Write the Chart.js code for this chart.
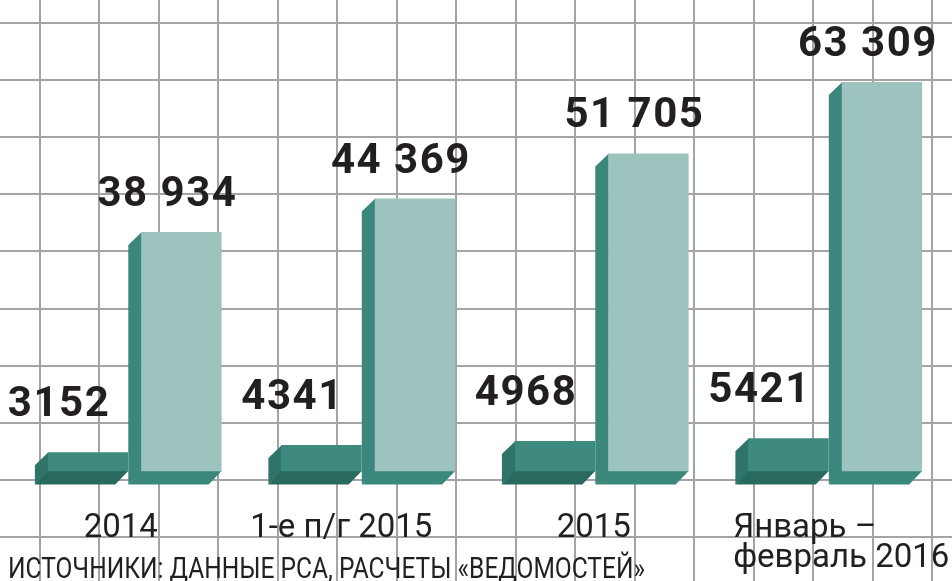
<!DOCTYPE html>
<html>
<head>
<meta charset="utf-8">
<script src="https://cdn.jsdelivr.net/npm/chart.js@4.4.1/dist/chart.umd.min.js"></script>
<style>
  html, body { margin: 0; padding: 0; background: #ffffff; }
  #wrap { width: 952px; height: 581px; }
</style>
</head>
<body>
<div id="wrap"><canvas id="c" width="952" height="581"></canvas></div>
<script>
// ---- data ----
const categories = [["2014"], ["1-е п/г 2015"], ["2015"], ["Январь –", "февраль 2016"]];
const smallValues = [3152, 4341, 4968, 5421];
const largeValues = [38934, 44369, 51705, 63309];
const sourceText = "ИСТОЧНИКИ: ДАННЫЕ РСА, РАСЧЕТЫ «ВЕДОМОСТЕЙ»";

// ---- styles ----
const TEXT = '#231f20';
const GRID = '#a4a4a4';
const DEPTH_X = -13, DEPTH_Y = 13;
const labelShift = [-14, -27, -8, 6];
const styles = [
  { face: '#3e8a7e', side: '#2e7468', bottom: '#296a5f', labelDx: -29, labelDy: -36 },
  { face: '#9dc3bf', side: '#3b877c', bottom: '#3a887c', labelDx: -14, labelDy: -26 }
];

function fmt(n) {
  const s = String(n);
  if (n < 10000) return s;
  return s.replace(/\B(?=(\d{3})+(?!\d))/g, ' ');
}

const backgroundGrid = {
  id: 'backgroundGrid',
  beforeDraw(chart) {
    const ctx = chart.ctx;
    const W = chart.width, H = chart.height;
    ctx.save();
    ctx.fillStyle = '#ffffff';
    ctx.fillRect(0, 0, W, H);
    ctx.strokeStyle = GRID;
    ctx.lineWidth = 2;
    for (let x = 40; x < W + 2; x += 59.47) {
      ctx.beginPath(); ctx.moveTo(Math.round(x), 0); ctx.lineTo(Math.round(x), H); ctx.stroke();
    }
    for (let y = 23; y < H + 2; y += 57.1) {
      ctx.beginPath(); ctx.moveTo(0, Math.round(y)); ctx.lineTo(W, Math.round(y)); ctx.stroke();
    }
    ctx.restore();
  }
};

const extrude = {
  id: 'extrude',
  beforeDatasetDraw(chart, args) {
    const st = styles[args.index];
    const ctx = chart.ctx;
    ctx.save();
    args.meta.data.forEach(el => {
      const p = el.getProps(['x', 'y', 'base', 'width'], true);
      const L = p.x - p.width / 2, R = p.x + p.width / 2, T = p.y, B = p.base;
      // left side
      ctx.fillStyle = st.side;
      ctx.beginPath();
      ctx.moveTo(L + 0.5, T);
      ctx.lineTo(L + DEPTH_X, T + DEPTH_Y);
      ctx.lineTo(L + DEPTH_X, B + DEPTH_Y);
      ctx.lineTo(L + 0.5, B);
      ctx.closePath();
      ctx.fill();
      // bottom side
      ctx.fillStyle = st.bottom;
      ctx.beginPath();
      ctx.moveTo(L, B - 0.5);
      ctx.lineTo(R, B - 0.5);
      ctx.lineTo(R + DEPTH_X, B + DEPTH_Y);
      ctx.lineTo(L + DEPTH_X, B + DEPTH_Y);
      ctx.closePath();
      ctx.fill();
    });
    ctx.restore();
  },
  afterDatasetsDraw(chart) {
    const ctx = chart.ctx;
    ctx.save();
    ctx.fillStyle = TEXT;
    ctx.font = '700 42px Roboto';
    ctx.letterSpacing = '1.5px';
    ctx.textAlign = 'center';
    ctx.textBaseline = 'alphabetic';
    chart.data.datasets.forEach((ds, di) => {
      const meta = chart.getDatasetMeta(di);
      const st = styles[di];
      meta.data.forEach((el, i) => {
        const p = el.getProps(['x', 'y'], true);
        ctx.fillText(fmt(ds.data[i]), p.x + st.labelDx, p.y + st.labelDy);
      });
    });
    ctx.restore();
  },
  afterDraw(chart) {
    const ctx = chart.ctx;
    const xs = chart.scales.x;
    ctx.save();
    ctx.fillStyle = TEXT;
    ctx.font = '400 33px Roboto';
    ctx.textBaseline = 'alphabetic';
    ctx.textAlign = 'left';
    categories.forEach((lines, i) => {
      const cx = xs.getPixelForValue(i) + labelShift[i];
      const w = Math.max(...lines.map(l => ctx.measureText(l).width));
      lines.forEach((l, j) => {
        ctx.fillText(l, cx - w / 2 + (lines.length === 1 ? (w - ctx.measureText(l).width) / 2 : 0), 537 + j * 30);
      });
    });
    // source line (condensed)
    ctx.font = '400 30px Roboto';
    const sw = ctx.measureText(sourceText).width;
    ctx.translate(8, 578);
    ctx.scale(637 / sw, 1);
    ctx.fillText(sourceText, 0, 0);
    ctx.restore();
  }
};

new Chart(document.getElementById('c'), {
  type: 'bar',
  data: {
    labels: categories.map(c => c.join(' ')),
    datasets: [
      { label: 'small', data: smallValues, backgroundColor: styles[0].face, borderWidth: 0, inflateAmount: 0 },
      { label: 'large', data: largeValues, backgroundColor: styles[1].face, borderWidth: 0, inflateAmount: 0 }
    ]
  },
  options: {
    responsive: false,
    animation: false,
    devicePixelRatio: 1,
    layout: { padding: { top: 4, bottom: 109.4, left: 18, right: 0 } },
    plugins: { legend: { display: false }, tooltip: { enabled: false }, title: { display: false } },
    datasets: { bar: { categoryPercentage: 0.8, barPercentage: 0.86 } },
    scales: {
      x: { display: false },
      y: { display: false, min: 0, max: 76000 }
    }
  },
  plugins: [backgroundGrid, extrude]
});
</script>
</body>
</html>
